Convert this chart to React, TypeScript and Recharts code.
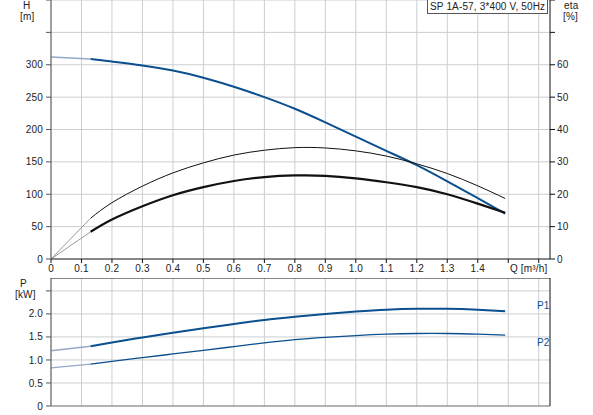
import React from 'react';
import {
  ComposedChart,
  Line,
  XAxis,
  YAxis,
  ReferenceLine,
} from 'recharts';

// Flow axis (m³/h)
const qTicks = [0, 0.1, 0.2, 0.3, 0.4, 0.5, 0.6, 0.7, 0.8, 0.9, 1.0, 1.1, 1.2, 1.3, 1.4, 1.5, 1.6];
const qLabelMax = 1.4;

// Head curve H [m]
const headQ = [0, 0.13, 0.2, 0.3, 0.4, 0.5, 0.6, 0.7, 0.8, 0.9, 1.0, 1.1, 1.2, 1.3, 1.4, 1.49];
const headH = [312, 309, 305, 299, 291, 280, 266, 250, 232, 211, 189, 167, 145, 120, 94, 70];

// Efficiency curves eta [%]
const etaQ = [0, 0.13, 0.2, 0.3, 0.4, 0.5, 0.6, 0.7, 0.8, 0.9, 1.0, 1.1, 1.2, 1.3, 1.4, 1.49];
const etaPump = [0, 12.6, 17.4, 22.5, 26.6, 29.7, 32.1, 33.6, 34.4, 34.3, 33.4, 31.8, 29.4, 26.4, 22.6, 18.7];
const etaTotal = [0, 8.4, 12.2, 16.3, 19.7, 22.2, 24.1, 25.3, 25.8, 25.7, 24.9, 23.7, 22.2, 20.0, 17.1, 14.3];

// Power curves P [kW]
const powerQ = [0, 0.13, 0.2, 0.3, 0.4, 0.5, 0.6, 0.7, 0.8, 0.9, 1.0, 1.1, 1.2, 1.3, 1.4, 1.49];
const powerP1 = [1.2, 1.3, 1.38, 1.49, 1.59, 1.69, 1.78, 1.87, 1.94, 2.0, 2.05, 2.09, 2.11, 2.11, 2.09, 2.06];
const powerP2 = [0.83, 0.91, 0.97, 1.05, 1.13, 1.21, 1.29, 1.37, 1.44, 1.49, 1.53, 1.56, 1.575, 1.575, 1.56, 1.54];

const hTicks = [0, 50, 100, 150, 200, 250, 300, 350, 400];
const hLabelMax = 300;
const etaTicks = [0, 10, 20, 30, 40, 50, 60, 70, 80];
const etaLabelMax = 60;
const pTicks = [0, 0.5, 1.0, 1.5, 2.0, 2.5];
const pLabelMax = 2.0;

const title = 'SP 1A-57, 3*400 V, 50Hz';

const Q_MAX = 1.637;
const P_MAX = 2.78;
const SPLIT_Q = 0.13;

const BLUE = '#0b4f8e';
const FADED_BLUE = '#93a9c6';
const FADED_GREY = '#9a9a9a';
const GRID = '#cbced2';
const FONT = '"Liberation Sans", Arial, sans-serif';
const TEXT = '#222';

const toRows = (q: number[], v: number[]) => q.map((x, i) => ({ q: x, v: v[i] }));
const before = (rows: { q: number; v: number }[]) => rows.filter((r) => r.q <= SPLIT_Q);
const after = (rows: { q: number; v: number }[]) => rows.filter((r) => r.q >= SPLIT_Q);

const headRows = toRows(headQ, headH);
const etaPumpRows = toRows(etaQ, etaPump);
const etaTotalRows = toRows(etaQ, etaTotal);
const p1Rows = toRows(powerQ, powerP1);
const p2Rows = toRows(powerQ, powerP2);

const tickStyle = { fontSize: 10, fill: TEXT, fontFamily: FONT, letterSpacing: 0.15 };

const fmtQ = (v: number) => (v === 0 ? '0' : v <= qLabelMax + 1e-6 ? v.toFixed(1) : '');

const label = (text: string, left: number, top: number, color = TEXT): React.ReactNode => (
  <div
    style={{
      position: 'absolute',
      left,
      top,
      fontFamily: FONT,
      fontSize: 10,
      letterSpacing: 0.15,
      lineHeight: '12px',
      color,
      whiteSpace: 'nowrap',
    }}
  >
    {text}
  </div>
);

const curve = (key: string, rows: any[], yAxisId: string, stroke: string, width: number) => (
  <Line
    key={key}
    data={rows}
    dataKey="v"
    xAxisId="q"
    yAxisId={yAxisId}
    type="natural"
    stroke={stroke}
    strokeWidth={width}
    dot={false}
    activeDot={false}
    isAnimationActive={false}
  />
);

// grid drawn from the tick lists through the chart's own scales
const vGrid = (yAxisId: string) =>
  qTicks.map((q) => (
    <ReferenceLine key={`vx${q}`} xAxisId="q" yAxisId={yAxisId} x={q} stroke={GRID} strokeWidth={1} />
  ));
const hGrid = (yAxisId: string, ticks: number[]) =>
  ticks.map((v) => (
    <ReferenceLine key={`hy${v}`} xAxisId="q" yAxisId={yAxisId} y={v} stroke={GRID} strokeWidth={1} />
  ));

export default function App() {
  return (
    <div style={{ position: 'absolute', left: 0, top: 0, width: 593, height: 415, background: '#fff' }}>
      {/* Head / efficiency chart */}
      <div style={{ position: 'absolute', left: 0, top: 0 }}>
        <ComposedChart width={593} height={280} margin={{ top: 0, right: 0, bottom: 0, left: 0 }}>
          <XAxis
            xAxisId="q"
            type="number"
            dataKey="q"
            domain={[0, Q_MAX]}
            ticks={qTicks}
            tickFormatter={fmtQ}
            allowDataOverflow
            height={21}
            tickSize={4}
            tickMargin={2}
            stroke="#111"
            tick={tickStyle}
          />
          <YAxis
            yAxisId="h"
            domain={[0, 400]}
            ticks={hTicks}
            tickFormatter={(v: number) => (v <= hLabelMax ? String(v) : '')}
            width={51}
            tickSize={5}
            tickMargin={3}
            stroke="#555"
            tick={tickStyle}
          />
          <YAxis
            yAxisId="eta"
            orientation="right"
            domain={[0, 80]}
            ticks={etaTicks}
            tickFormatter={(v: number) => (v <= etaLabelMax ? String(v) : '')}
            width={43}
            tickSize={5}
            tickMargin={2}
            stroke="#111"
            tick={tickStyle}
          />
          {vGrid('h')}
          {hGrid('h', hTicks.filter((v) => v > 0))}
          {curve('h0', before(headRows), 'h', FADED_BLUE, 1.5)}
          {curve('h1', after(headRows), 'h', BLUE, 2)}
          {curve('e0', before(etaPumpRows), 'eta', FADED_GREY, 1)}
          {curve('e1', after(etaPumpRows), 'eta', '#111', 1)}
          {curve('t0', before(etaTotalRows), 'eta', FADED_GREY, 1)}
          {curve('t1', after(etaTotalRows), 'eta', '#111', 2.2)}
        </ComposedChart>
      </div>

      {/* Power chart */}
      <div style={{ position: 'absolute', left: 0, top: 278 }}>
        <ComposedChart width={593} height={137} margin={{ top: 0, right: 0, bottom: 0, left: 0 }}>
          <XAxis
            xAxisId="q"
            type="number"
            dataKey="q"
            domain={[0, Q_MAX]}
            ticks={qTicks}
            allowDataOverflow
            height={9}
            tick={false}
            tickLine={false}
            stroke="#666"
          />
          <YAxis
            yAxisId="p"
            domain={[0, P_MAX]}
            ticks={pTicks}
            allowDataOverflow
            tickFormatter={(v: number) => (v === 0 ? '0' : v <= pLabelMax ? v.toFixed(1) : '')}
            width={51}
            tickSize={5}
            tickMargin={3}
            stroke="#555"
            tick={tickStyle}
          />
          <YAxis
            yAxisId="pr"
            orientation="right"
            domain={[0, P_MAX]}
            width={43}
            tick={false}
            tickLine={false}
            stroke="#111"
          />
          {vGrid('p')}
          {hGrid('p', pTicks.filter((v) => v > 0))}
          <ReferenceLine xAxisId="q" yAxisId="p" y={P_MAX} stroke="#111" />
          {curve('p10', before(p1Rows), 'p', FADED_BLUE, 1.5)}
          {curve('p11', after(p1Rows), 'p', BLUE, 2)}
          {curve('p20', before(p2Rows), 'p', FADED_BLUE, 1.2)}
          {curve('p21', after(p2Rows), 'p', BLUE, 1.3)}
        </ComposedChart>
      </div>

      {/* Axis titles and annotations */}
      {label('H', 23, 0)}
      {label('[m]', 20, 11)}
      {label('eta', 564, 0)}
      {label('[%]', 563, 11)}
      {label('Q [m³/h]', 510, 263)}
      {label('P', 20, 278)}
      {label('[kW]', 15, 289)}
      {label('P1', 537, 300, BLUE)}
      {label('P2', 537, 337, BLUE)}
      <div
        style={{
          position: 'absolute',
          left: 427,
          top: 0,
          width: 121,
          height: 14,
          border: '1px solid #555',
          borderTop: 'none',
          background: '#fff',
          fontFamily: FONT,
          fontSize: 10,
          letterSpacing: 0.15,
          lineHeight: '14px',
          color: TEXT,
          paddingLeft: 2,
          boxSizing: 'border-box',
          whiteSpace: 'nowrap',
        }}
      >
        {title}
      </div>
    </div>
  );
}
